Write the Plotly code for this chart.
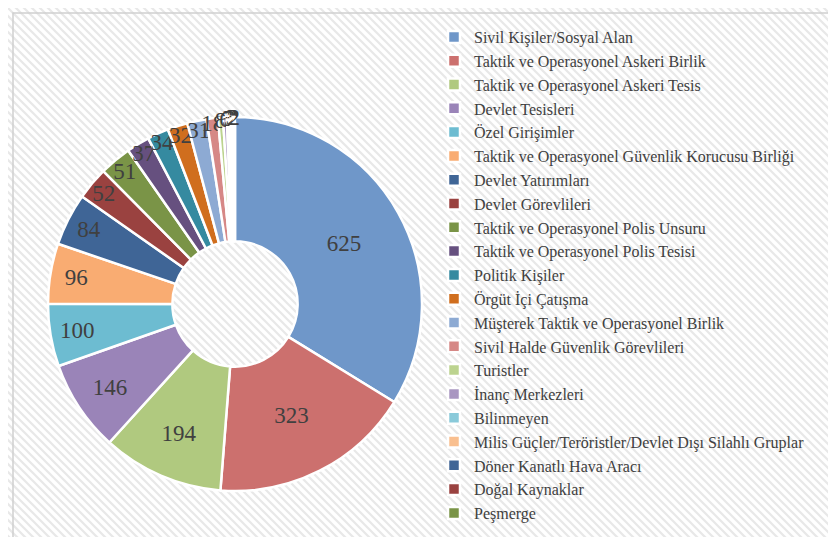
import base64
import plotly.graph_objects as go

labels = [
    "Sivil Kişiler/Sosyal Alan",
    "Taktik ve Operasyonel Askeri Birlik",
    "Taktik ve Operasyonel Askeri Tesis",
    "Devlet Tesisleri",
    "Özel Girişimler",
    "Taktik ve Operasyonel Güvenlik Korucusu Birliği",
    "Devlet Yatırımları",
    "Devlet Görevlileri",
    "Taktik ve Operasyonel Polis Unsuru",
    "Taktik ve Operasyonel Polis Tesisi",
    "Politik Kişiler",
    "Örgüt İçi Çatışma",
    "Müşterek Taktik ve Operasyonel Birlik",
    "Sivil Halde Güvenlik Görevlileri",
    "Turistler",
    "İnanç Merkezleri",
    "Bilinmeyen",
    "Milis Güçler/Teröristler/Devlet Dışı Silahlı Gruplar",
    "Döner Kanatlı Hava Aracı",
    "Doğal Kaynaklar",
    "Peşmerge",
]
values = [625, 323, 194, 146, 100, 96, 84, 52, 51, 37, 34, 32, 31, 18, 8, 6, 3, 3, 3, 2, 2]

colors = [
    "#6f97c9", "#cc706e", "#b0c97f", "#9a84b8", "#6dbcd1", "#f9ac72",
    "#3f6596", "#9a4240", "#7a9447", "#66507f", "#358aa0", "#d06e1e",
    "#8daad3", "#d68886", "#bcd38f", "#a996c1", "#8acada", "#f9bf8f",
    "#3f6596", "#9a4240", "#7a9447",
]

svg = (
    '<svg xmlns="http://www.w3.org/2000/svg" width="836" height="537">'
    '<defs><pattern id="p" width="8" height="8" patternUnits="userSpaceOnUse">'
    '<rect width="8" height="8" fill="#ffffff"/>'
    '<path d="M-2,-2 L10,10 M-2,6 L2,10 M6,-2 L10,2" stroke="#e8e8e8" stroke-width="2.2"/>'
    '</pattern></defs>'
    '<rect width="836" height="537" fill="url(#p)"/>'
    '</svg>'
)
src = "data:image/svg+xml;base64," + base64.b64encode(svg.encode()).decode()

W, H = 836, 537
cx, cy, r = 227, 296, 187
serif = "Liberation Serif, Times New Roman, serif"

fig = go.Figure(go.Pie(
    labels=labels,
    values=values,
    sort=False,
    direction="clockwise",
    rotation=0,
    hole=0.335,
    marker=dict(colors=colors, line=dict(color="white", width=2.5)),
    textinfo="value",
    textposition="inside",
    insidetextorientation="horizontal",
    textfont=dict(family=serif, size=23, color="#404040"),
    domain=dict(x=[(cx - r) / W, (cx + r) / W], y=[(H - cy - r) / H, (H - cy + r) / H]),
))

fig.update_layout(
    width=W, height=H,
    margin=dict(l=0, r=0, t=0, b=0),
    paper_bgcolor="white",
    plot_bgcolor="rgba(0,0,0,0)",
    uniformtext=dict(minsize=23, mode="show"),
    showlegend=True,
    legend=dict(
        x=426 / W, y=1 - 12 / H, xanchor="left", yanchor="top",
        font=dict(family=serif, size=16, color="#404040"),
        bgcolor="rgba(0,0,0,0)",
        itemwidth=30,
        tracegroupgap=0,
    ),
    images=[dict(source=src, xref="paper", yref="paper", x=0, y=1, sizex=1, sizey=1,
                 sizing="stretch", layer="below", xanchor="left", yanchor="top")],
    shapes=[dict(type="rect", xref="paper", yref="paper", x0=5 / W, y0=-0.01, x1=1.01, y1=1 - 5 / H,
                 line=dict(color="#d0d0d0", width=1.5), fillcolor="rgba(0,0,0,0)", layer="below")],
)

fig.write_html("out.html")
